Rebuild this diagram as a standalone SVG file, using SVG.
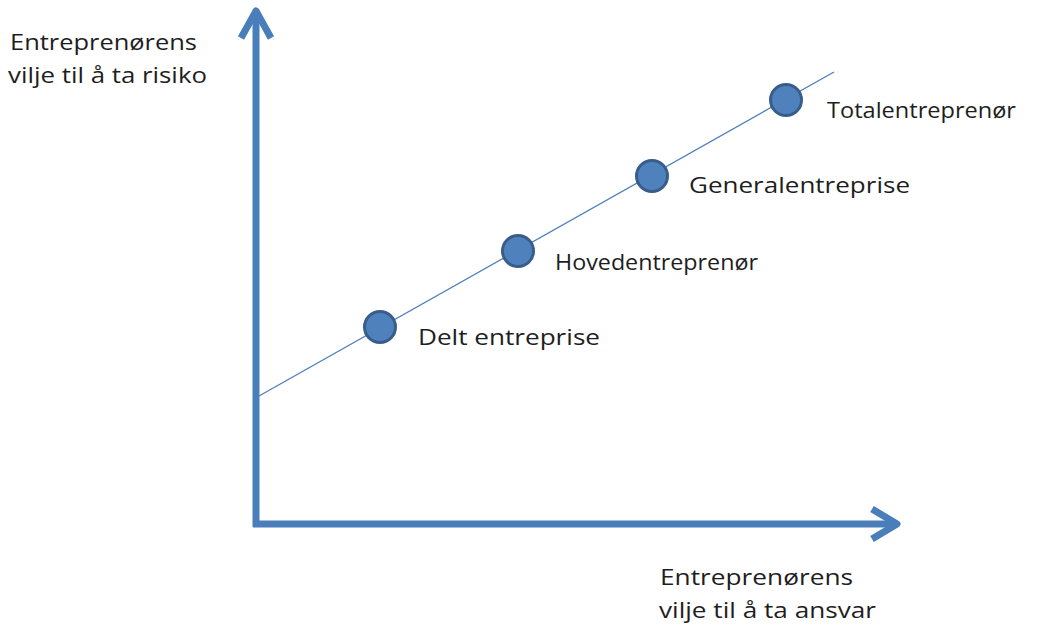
<svg xmlns="http://www.w3.org/2000/svg" width="1042" height="627" viewBox="0 0 1042 627">
  <defs>
    <style>
      .axis { fill: none; stroke: #4a7ebb; stroke-width: 7; stroke-linejoin: round; stroke-linecap: butt; }
      .trend { fill: none; stroke: #4f81bd; stroke-width: 1.4; }
      .dot { fill: #4f81bd; stroke: #385d8a; stroke-width: 3; }
      .lbl { font-family: "Open Sans", "Liberation Sans", sans-serif; font-size: 22px; fill: #1e1e1e; }
    </style>
  </defs>
  <rect width="1042" height="627" fill="#ffffff"/>

  <!-- axes and trend line -->
  <g id="connectors">
    <line class="axis" x1="256" y1="12" x2="256" y2="527"/>
    <polyline class="axis" points="241,38 256,11 271,38"/>
    <line class="axis" x1="253" y1="524" x2="895" y2="524"/>
    <polyline class="axis" points="872,509 897,524 872,539"/>
    <line class="trend" x1="259" y1="396" x2="834" y2="72"/>
  </g>

  <!-- axis titles -->
  <g id="y-axis-label">
    <text class="lbl" x="10" y="50" textLength="187" lengthAdjust="spacingAndGlyphs">Entreprenørens</text>
    <text class="lbl" x="8" y="83" textLength="199" lengthAdjust="spacingAndGlyphs">vilje til å ta risiko</text>
  </g>
  <g id="x-axis-label">
    <text class="lbl" x="660" y="585" textLength="193" lengthAdjust="spacingAndGlyphs">Entreprenørens</text>
    <text class="lbl" x="659" y="618" textLength="217" lengthAdjust="spacingAndGlyphs">vilje til å ta ansvar</text>
  </g>

  <!-- contract forms along the line -->
  <g id="delt-entreprise">
    <circle class="dot" cx="380" cy="327" r="15.5"/>
    <text class="lbl" x="418" y="345" textLength="182" lengthAdjust="spacingAndGlyphs">Delt entreprise</text>
  </g>
  <g id="hovedentreprenor">
    <circle class="dot" cx="518" cy="251" r="15.5"/>
    <text class="lbl" x="555" y="270" textLength="203" lengthAdjust="spacingAndGlyphs">Hovedentreprenør</text>
  </g>
  <g id="generalentreprise">
    <circle class="dot" cx="652" cy="176" r="15.5"/>
    <text class="lbl" x="689" y="193" textLength="221" lengthAdjust="spacingAndGlyphs">Generalentreprise</text>
  </g>
  <g id="totalentreprenor">
    <circle class="dot" cx="786" cy="100" r="15.5"/>
    <text class="lbl" x="827" y="118" textLength="189" lengthAdjust="spacingAndGlyphs">Totalentreprenør</text>
  </g>
</svg>
